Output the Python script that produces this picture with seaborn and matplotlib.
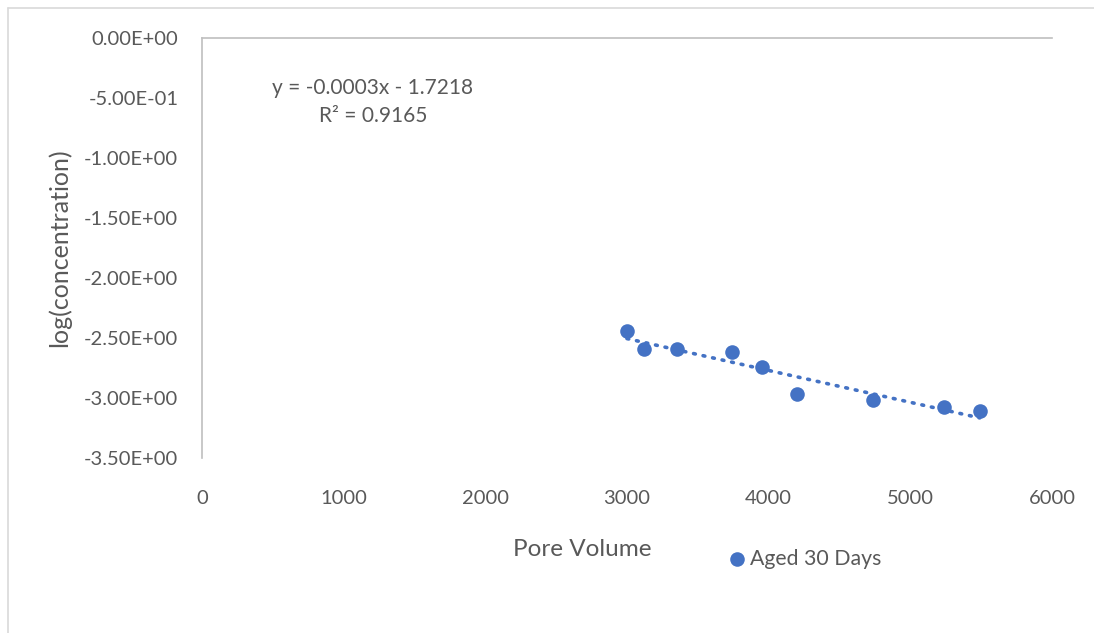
import numpy as np
import pandas as pd
import matplotlib
matplotlib.use("Agg")
import matplotlib.pyplot as plt
import seaborn as sns
from matplotlib.lines import Line2D

pore_volume = [3000, 3120, 3350, 3740, 3950, 4200, 4740, 5240, 5490]
log_conc = [-2.44, -2.59, -2.59, -2.62, -2.74, -2.97, -3.02, -3.075, -3.11]
series_name = "Aged 30 Days"
y_ticks = [0.0, -0.5, -1.0, -1.5, -2.0, -2.5, -3.0, -3.5]
x_ticks = [0, 1000, 2000, 3000, 4000, 5000, 6000]
eq_text = "y = -0.0003x - 1.7218\nR² = 0.9165"

sns.set_theme(style="white")
plt.rcParams['font.family'] = ['Lato', 'DejaVu Sans']

color = "#4472C4"
txt = "#595959"

df = pd.DataFrame({"Pore Volume": pore_volume, "log": log_conc})

fig = plt.figure(figsize=(10.94, 6.33), dpi=100)
ax = fig.add_axes([0.1846, 0.2765, 0.777, 0.6635])

sns.scatterplot(data=df, x="Pore Volume", y="log", ax=ax, color=color, s=110,
                edgecolor=color, linewidth=0, label=series_name, zorder=3)

coef = np.polyfit(pore_volume, log_conc, 1)
xs = np.array([min(pore_volume), max(pore_volume)])
ax.plot(xs, np.polyval(coef, xs), color=color, linewidth=2.6,
        linestyle=(0, (0.5, 2.2)), dash_capstyle="round", zorder=2)

ax.set_xlim(0, 6000)
ax.set_ylim(-3.5, 0)
ax.set_xticks(x_ticks)
ax.set_yticks(y_ticks)
ax.set_yticklabels(["{:.2E}".format(v) for v in y_ticks])
ax.tick_params(axis="both", length=0, labelsize=14.5, colors=txt)
ax.tick_params(axis="x", pad=23)
ax.tick_params(axis="y", pad=17)

for s in ["bottom", "right"]:
    ax.spines[s].set_visible(False)
for s in ["left", "top"]:
    ax.spines[s].set_color("#BFBFBF")
    ax.spines[s].set_linewidth(1.2)
ax.grid(False)

ax.set_xlabel("Pore Volume", fontsize=17.5, color=txt)
ax.xaxis.set_label_coords((582 - 202) / 850, -(539 - 458) / 420)
ax.set_ylabel("log(concentration)", fontsize=18, color=txt)
ax.yaxis.set_label_coords(-(202 - 71) / 850, 1 - (248 - 38) / 420)

ax.text(1207, -0.5375, eq_text, ha="center", va="center", fontsize=15,
        color=txt, linespacing=1.5)

ax.legend(loc="center", bbox_to_anchor=(805 / 1094, 1 - 559 / 633),
          bbox_transform=fig.transFigure, frameon=False, fontsize=15.3,
          handlelength=0.8, handletextpad=0.2, markerscale=1.0,
          labelcolor=txt)

border_kw = dict(transform=fig.transFigure, color="#D9D9D9", linewidth=1.2)
fig.add_artist(Line2D([7.5 / 1094, 7.5 / 1094], [0, 1 - 8 / 633], **border_kw))
fig.add_artist(Line2D([7.5 / 1094, 1], [1 - 8 / 633, 1 - 8 / 633], **border_kw))

fig.savefig("out.png", dpi=100)
